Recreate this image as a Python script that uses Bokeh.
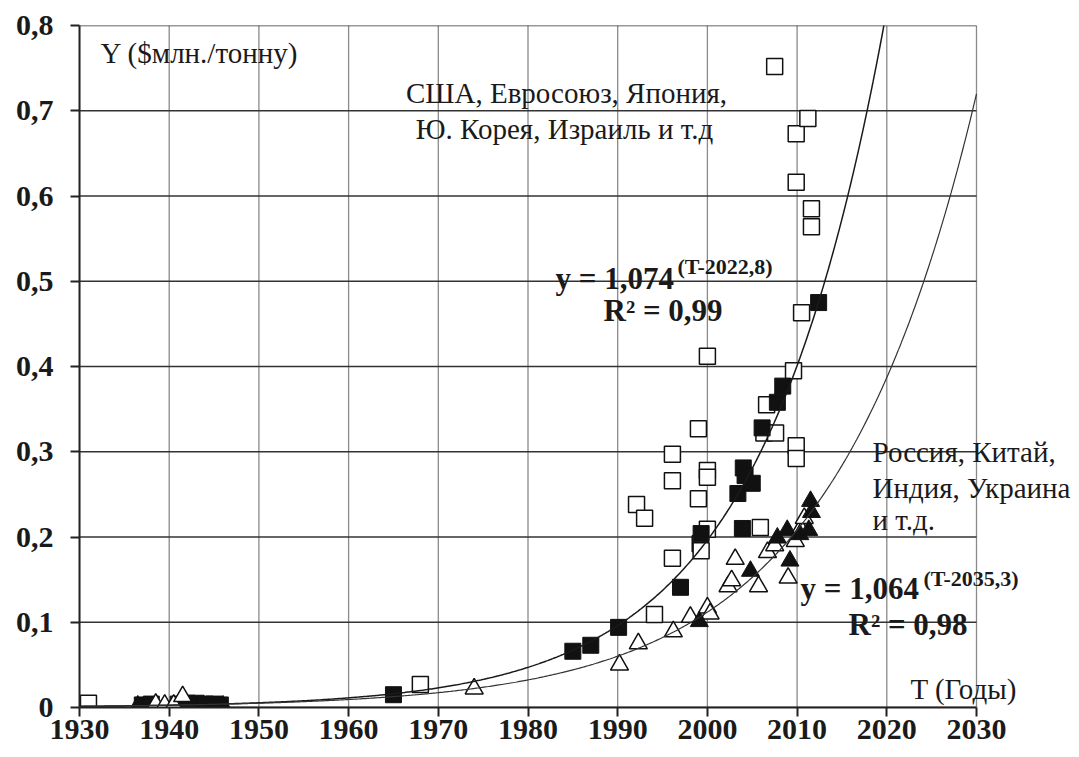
import numpy as np
from bokeh.plotting import figure
from bokeh.models import Range1d, FixedTicker, CustomJSTickFormatter, Label
from bokeh.embed import file_html
from bokeh.resources import INLINE

# ---- data ----
open_sq_year = [1931, 1968, 1992.1, 1993, 1994.1, 1996.1, 1996.1, 1996.1, 1999, 1999, 1999.2, 1999.3,
                2000, 2000, 2000, 2000, 2005.9, 2006.3, 2006.6, 2007.6, 2007.5, 2009.6, 2009.9, 2009.9,
                2009.9, 2009.9, 2010.5, 2011.2, 2011.6, 2011.6]
open_sq_val = [0.005, 0.027, 0.238, 0.222, 0.109, 0.297, 0.266, 0.175, 0.327, 0.245, 0.192, 0.184,
               0.412, 0.278, 0.270, 0.209, 0.211, 0.322, 0.355, 0.322, 0.752, 0.395, 0.307, 0.292,
               0.673, 0.616, 0.463, 0.691, 0.585, 0.564]

fill_sq_year = [1937, 1938, 1941, 1942, 1943, 1944, 1945, 1945.7, 1965, 1985, 1987, 1990.1, 1997,
                1999.3, 2003.4, 2003.9, 2004, 2004.2, 2005, 2006.1, 2007.8, 2008.4, 2012.4]
fill_sq_val = [0.003, 0.004, 0.004, 0.005, 0.005, 0.004, 0.004, 0.003, 0.015, 0.066, 0.073, 0.094, 0.141,
               0.204, 0.251, 0.210, 0.281, 0.272, 0.263, 0.328, 0.358, 0.377, 0.475]

open_tri_year = [1938.5, 1939.5, 1940.5, 1941.5, 1974, 1990.2, 1992.3, 1996.2, 1998.1, 2000, 2000.3,
                 2002.3, 2002.7, 2003.1, 2005.7, 2006.7, 2007.5, 2009, 2009.8, 2010.4, 2010.8]
open_tri_val = [0.004, 0.003, 0.003, 0.013, 0.022, 0.050, 0.075, 0.089, 0.106, 0.117, 0.110,
                0.142, 0.149, 0.174, 0.142, 0.182, 0.190, 0.152, 0.195, 0.210, 0.222]

fill_tri_year = [1936.5, 1946, 1999.1, 2004.8, 2007.8, 2008.9, 2009.2, 2010.3, 2011.3, 2011.6, 2011.5]
fill_tri_val = [0.002, 0.002, 0.101, 0.160, 0.199, 0.208, 0.172, 0.203, 0.208, 0.229, 0.242]

# trend models from the chart annotations
fit1_base, fit1_shift = 1.074, 2022.8
fit2_base, fit2_shift = 1.064, 2035.3

x_ticks = [1930, 1940, 1950, 1960, 1970, 1980, 1990, 2000, 2010, 2020, 2030]
y_ticks = [0, 0.1, 0.2, 0.3, 0.4, 0.5, 0.6, 0.7, 0.8]

SERIF = "Liberation Serif"

W, H = 1075, 750
LEFT, TOP, BOTTOM_Y = 79, 25, 707
PX_PER_YEAR = 8.97
x_end = 1930 + (W - LEFT) / PX_PER_YEAR   # frame runs to the canvas edge so outside texts are not clipped

p = figure(width=W, height=H, output_backend="svg", toolbar_location=None,
           x_range=Range1d(1930, x_end), y_range=Range1d(0, 0.8),
           min_border_left=LEFT, min_border_right=0, min_border_top=TOP,
           min_border_bottom=H - BOTTOM_Y)
p.outline_line_color = None
p.background_fill_color = "white"
p.xgrid.visible = False
p.ygrid.visible = False

# grid lines limited to 1930..2030
p.segment(x0=x_ticks, y0=[0] * len(x_ticks), x1=x_ticks, y1=[0.8] * len(x_ticks),
          line_color="#8a8a8a", line_width=1.3)
p.segment(x0=[1930] * len(y_ticks), y0=y_ticks, x1=[2030] * len(y_ticks), y1=y_ticks,
          line_color="#333333", line_width=1.4)

# axes
for ax in (p.xaxis[0], p.yaxis[0]):
    ax.axis_line_color = "#222222"
    ax.axis_line_width = 2
    ax.major_tick_line_color = "#222222"
    ax.major_tick_line_width = 2
    ax.major_tick_out = 9
    ax.major_tick_in = 0
    ax.minor_tick_line_color = None
    ax.major_label_text_font = SERIF
    ax.major_label_text_font_style = "bold"
    ax.major_label_text_font_size = "30px"
    ax.major_label_text_color = "#1a1a1a"

p.xaxis.ticker = FixedTicker(ticks=x_ticks)
p.xaxis.bounds = (1930, 2030)
p.yaxis.ticker = FixedTicker(ticks=y_ticks)
p.xaxis.major_label_standoff = 3
p.yaxis.major_label_standoff = 17
p.yaxis.formatter = CustomJSTickFormatter(code="""
    if (Math.abs(tick) < 1e-9) return "0";
    return tick.toFixed(1).replace('.', ',');
""")

# markers
p.scatter(open_sq_year, open_sq_val, marker="square", size=16, fill_color="white",
          line_color="#111111", line_width=1.5)
p.scatter(fill_sq_year, fill_sq_val, marker="square", size=16, fill_color="#111111",
          line_color="#111111", line_width=1)
p.scatter(open_tri_year, open_tri_val, marker="triangle", size=18, fill_color="white",
          line_color="#111111", line_width=1.5)
p.scatter(fill_tri_year, fill_tri_val, marker="triangle", size=18, fill_color="#111111",
          line_color="#111111", line_width=1)

# trend lines
T = np.linspace(1930, 2030, 600)
p.line(T, fit1_base ** (T - fit1_shift), line_color="#1a1a1a", line_width=1.5)
p.line(T, fit2_base ** (T - fit2_shift), line_color="#333333", line_width=1.2)

def px2data(px, py):
    return 1930 + (px - LEFT) / PX_PER_YEAR, (BOTTOM_Y - py) / 852.5

def add_label(text, px, py, size, bold=False, align="left", baseline="middle"):
    x, y = px2data(px, py)
    p.add_layout(Label(x=x, y=y, text=text, text_font=SERIF, text_font_size=size,
                       text_font_style="bold" if bold else "normal", text_align=align,
                       text_baseline=baseline, text_color="#1a1a1a"))

add_label("Y ($млн./тонну)", 100, 52, "29px")
add_label("США, Евросоюз, Япония,", 566, 92, "29px", align="center")
add_label("Ю. Корея, Израиль и т.д", 564, 128, "29px", align="center")
add_label("y = 1,074", 555, 278, "31px", bold=True)
add_label("(T-2022,8)", 677, 266, "22px", bold=True)
add_label("R² = 0,99", 603, 310, "31px", bold=True)
add_label("Россия, Китай,", 872, 451, "29px")
add_label("Индия, Украина", 872, 487, "29px")
add_label("и т.д.", 872, 519, "29px")
add_label("y = 1,064", 800, 588, "31px", bold=True)
add_label("(T-2035,3)", 923, 578, "22px", bold=True)
add_label("R² = 0,98", 848, 624, "31px", bold=True)
add_label("T (Годы)", 910, 688, "29px")

open("out.html", "w").write(file_html(p, INLINE))
